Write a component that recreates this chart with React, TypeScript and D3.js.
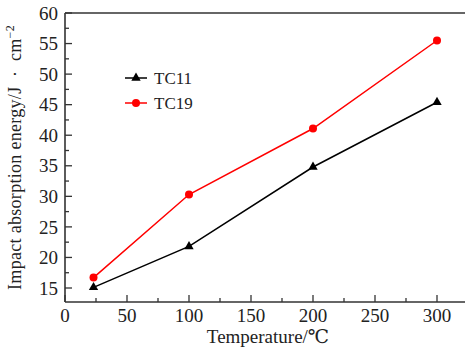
import React from "react";
import * as d3 from "d3";

const temps = [23, 100, 200, 300];
const tc11 = [15.1, 21.8, 34.8, 45.4];
const tc19 = [16.7, 30.3, 41.1, 55.5];
const xTicks = [0, 50, 100, 150, 200, 250, 300];
const yTicks = [15, 20, 25, 30, 35, 40, 45, 50, 55, 60];
const seriesNames = ["TC11", "TC19"];

export default function App() {
  const W = 465, H = 347;
  const left = 65, right = 470, top = 13, bottom = 302;
  const x = d3.scaleLinear().domain([0, 300]).range([left, 437]);
  const y = d3.scaleLinear().domain([15, 60]).range([288, top]);
  const line = d3.line<[number, number]>().x(d => x(d[0])).y(d => y(d[1]));
  const d11 = temps.map((t, i) => [t, tc11[i]] as [number, number]);
  const d19 = temps.map((t, i) => [t, tc19[i]] as [number, number]);
  const tri = d3.symbol().type(d3.symbolTriangle).size(38);
  const font = "Liberation Serif, DejaVu Serif, serif";
  const yMinor = d3.range(12.5, 60.01, 2.5).filter(v => y(v) <= bottom);
  const xMinor = d3.range(25, 330, 50).filter(v => x(v) < W);
  return (
    <svg width={W} height={H} style={{ position: "absolute", left: 0, top: 0, fontFamily: font }}>
      <rect width={W} height={H} fill="#fff" />
      <line x1={left} x2={right} y1={top} y2={top} stroke="#333" strokeWidth={1.6} />
      <line x1={left} x2={right} y1={bottom} y2={bottom} stroke="#333" strokeWidth={1.6} />
      <line x1={left} x2={left} y1={top} y2={bottom} stroke="#333" strokeWidth={1.6} />
      {yMinor.map(v => {
        const major = Math.abs(v % 5) < 1e-6;
        return <line key={"ym" + v} x1={left} x2={left + (major ? 7 : 4)} y1={y(v)} y2={y(v)} stroke="#333" strokeWidth={1.3} />;
      })}
      {xTicks.map(v => (
        <line key={"xM" + v} x1={x(v)} x2={x(v)} y1={bottom} y2={bottom - 7} stroke="#333" strokeWidth={1.3} />
      ))}
      {xMinor.map(v => (
        <line key={"xm" + v} x1={x(v)} x2={x(v)} y1={bottom} y2={bottom - 4} stroke="#333" strokeWidth={1.3} />
      ))}
      {yTicks.map(v => (
        <text key={"yl" + v} x={58} y={y(v)} dy="0.35em" textAnchor="end" fontSize={19} fill="#222">{v}</text>
      ))}
      {xTicks.map(v => (
        <text key={"xl" + v} x={x(v)} y={322} textAnchor="middle" fontSize={19} fill="#222">{v}</text>
      ))}
      <text x={268} y={343} textAnchor="middle" fontSize={19} fill="#222">Temperature/℃</text>
      <text transform="translate(21,157.5) rotate(-90)" textAnchor="middle" fontSize={18} letterSpacing={0.3} fill="#222" style={{ whiteSpace: "pre" }}>
        {"Impact absorption energy/J  ·  cm"}<tspan dy={-7} fontSize={12}>−2</tspan>
      </text>
      <path d={line(d11) || ""} fill="none" stroke="#000" strokeWidth={1.5} />
      <path d={line(d19) || ""} fill="none" stroke="#ff0000" strokeWidth={1.5} />
      {d11.map((p, i) => (
        <path key={"t" + i} d={tri() || ""} transform={`translate(${x(p[0])},${y(p[1])})`} fill="#000" />
      ))}
      {d19.map((p, i) => (
        <circle key={"c" + i} cx={x(p[0])} cy={y(p[1])} r={4} fill="#ff0000" />
      ))}
      <line x1={125} x2={147} y1={78} y2={78} stroke="#000" strokeWidth={1.5} />
      <path d={tri() || ""} transform="translate(136,78)" fill="#000" />
      <text x={154} y={78} dy="0.35em" fontSize={17} fill="#222">{seriesNames[0]}</text>
      <line x1={125} x2={147} y1={103} y2={103} stroke="#ff0000" strokeWidth={1.5} />
      <circle cx={136} cy={103} r={4} fill="#ff0000" />
      <text x={154} y={103} dy="0.35em" fontSize={17} fill="#222">{seriesNames[1]}</text>
    </svg>
  );
}
